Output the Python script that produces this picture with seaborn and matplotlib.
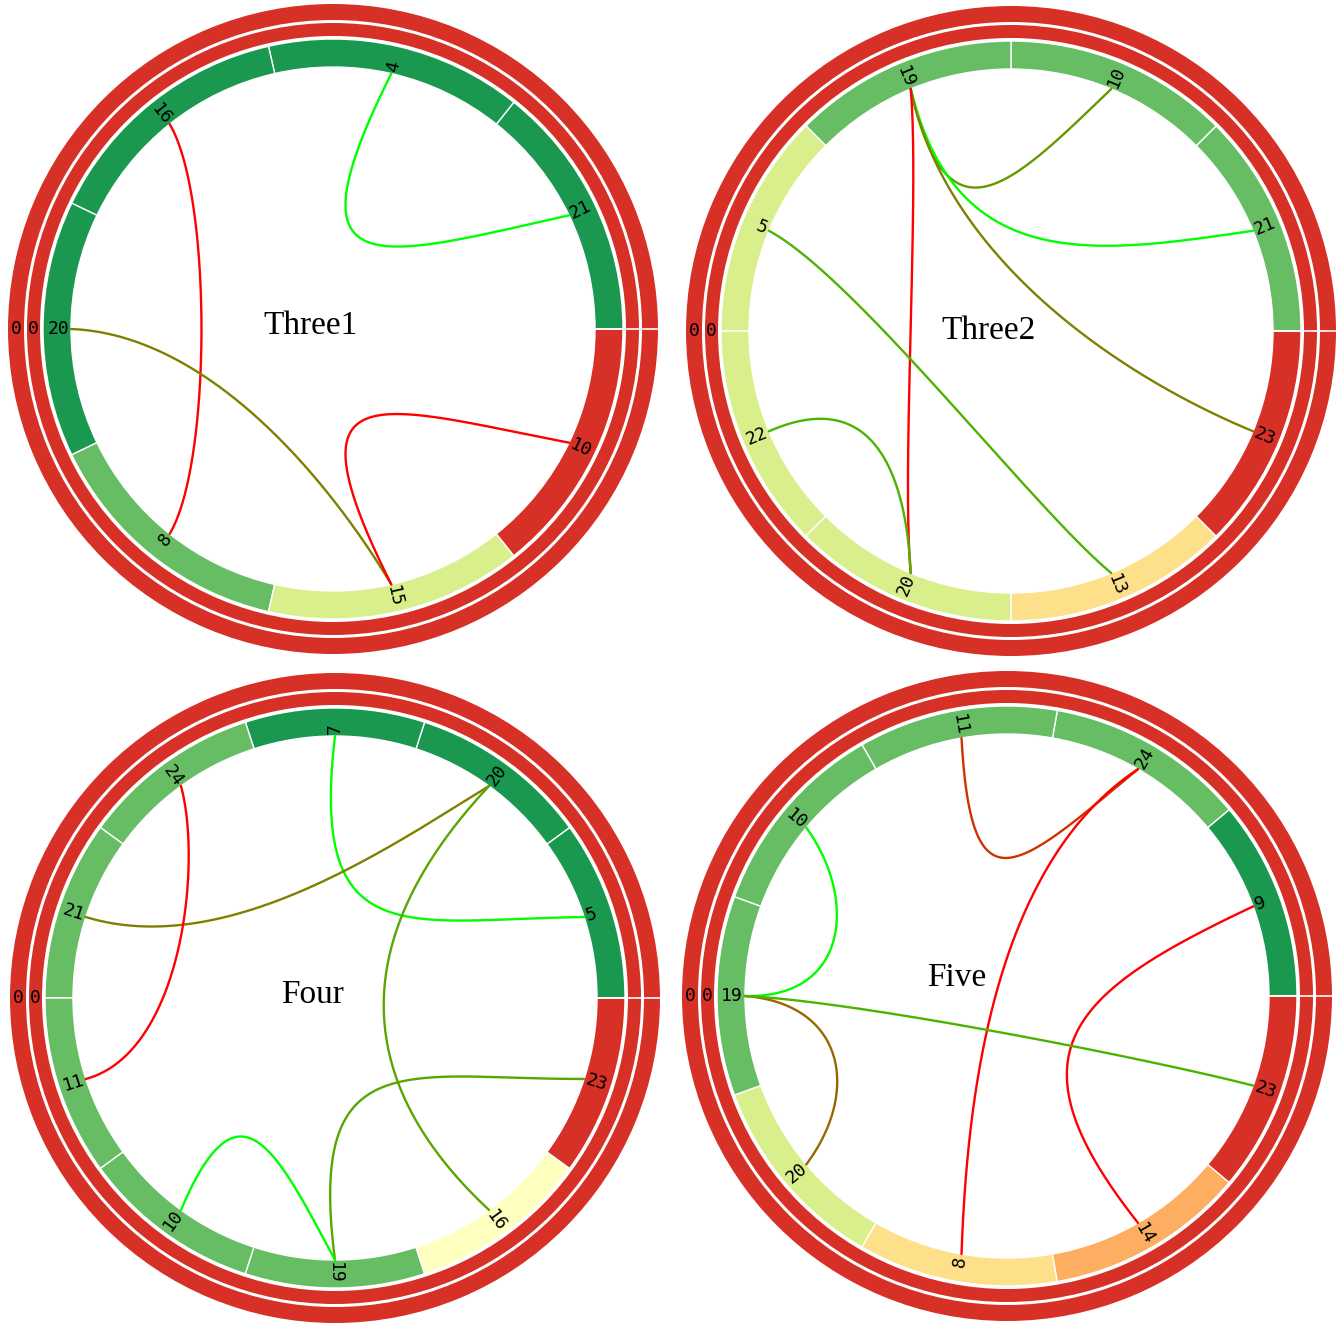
import numpy as np
import matplotlib
matplotlib.use("Agg")
import matplotlib.pyplot as plt
from matplotlib.patches import Wedge
import seaborn as sns

W, H = 1343, 1324

panel_titles = ["Three1", "Three2", "Four", "Five"]

# nodes listed counter-clockwise from 3 o'clock; level = RdYlGn class of the segment
three1_nodes = ["21", "4", "16", "20", "8", "15", "10"]
three1_levels = [9, 9, 9, 9, 8, 6, 1]
three1_src = ["4", "16", "20", "15"]
three1_dst = ["21", "8", "15", "10"]
three1_score = [1.0, 0.0, 0.5, 0.0]

three2_nodes = ["21", "10", "19", "5", "22", "20", "13", "23"]
three2_levels = [8, 8, 8, 6, 6, 6, 4, 1]
three2_src = ["19", "19", "19", "19", "5", "22"]
three2_dst = ["10", "21", "23", "20", "13", "20"]
three2_score = [0.6, 1.0, 0.5, 0.0, 0.7, 0.7]

four_nodes = ["5", "20", "7", "24", "21", "11", "10", "19", "16", "23"]
four_levels = [9, 9, 9, 8, 8, 8, 8, 8, 5, 1]
four_src = ["7", "20", "20", "24", "23", "10"]
four_dst = ["5", "21", "16", "11", "19", "19"]
four_score = [1.0, 0.5, 0.65, 0.0, 0.65, 1.0]

five_nodes = ["9", "24", "11", "10", "19", "20", "8", "14", "23"]
five_levels = [9, 8, 8, 8, 8, 6, 4, 3, 1]
five_src = ["11", "24", "9", "10", "19", "19"]
five_dst = ["24", "8", "14", "19", "20", "23"]
five_score = [0.2, 0.0, 0.0, 1.0, 0.4, 0.7]

panels = [
    (three1_nodes, three1_levels, three1_src, three1_dst, three1_score),
    (three2_nodes, three2_levels, three2_src, three2_dst, three2_score),
    (four_nodes, four_levels, four_src, four_dst, four_score),
    (five_nodes, five_levels, five_src, five_dst, five_score),
]

# chord shape: bezier handles as (radial, tangential) fractions of the radius at each end
chord_shapes = [
    [(0.10, 0.22, 0.27, 0.17), (0.69, 0.04, 0.69, -0.04),
     (0.47, 0.02, 0.57, -0.14), (0.10, -0.22, 0.28, -0.19)],
    [(0.37, 0.11, 0.52, 0.21), (0.28, 0.11, 0.40, 0.15), (0.38, 0.12, 0.40, 0.0),
     (0.62, 0.12, 0.66, -0.18), (0.62, 0.04, 0.66, -0.18), (0.55, -0.01, 0.68, -0.15)],
    [(0.16, 0.10, 0.36, 0.20), (0.56, 0.18, 0.45, -0.01), (0.28, 0.09, 0.23, -0.15),
     (0.71, 0.11, 0.62, 0.02), (0.36, -0.21, 0.16, -0.11), (0.44, -0.13, 0.59, -0.22)],
    [(0.33, 0.08, 0.43, 0.21), (0.40, 0.30, 0.43, -0.08), (0.23, -0.07, 0.18, -0.12),
     (0.68, 0.08, 0.60, 0.01), (0.62, 0.03, 0.66, -0.08), (0.57, 0.02, 0.59, -0.04)],
]

centers = [(333, 329), (1011, 331), (335, 998), (1007, 996)]
title_offsets = [(-23, 3), (-22, 0), (-22, 3), (-50, 18)]

R_IN, R_OUT = 262, 290
RINGS = [(293, 306), (309, 325)]
RED = "#d73027"
RDYLGN = ["#a50026", "#d73027", "#f46d43", "#fdae61", "#fee08b", "#ffffbf",
          "#d9ef8b", "#a6d96a", "#66bd63", "#1a9850", "#006837"]

sns.set_theme(style="white")
plt.rcParams["font.family"] = ["DejaVu Sans Mono", "DejaVu Sans"]
chord_cmap = sns.blend_palette(["#ff0000", "#00ff00"], as_cmap=True)


def unit(deg):
    r = np.deg2rad(deg)
    return np.array([np.cos(r), np.sin(r)])


def bezier(p0, c1, c2, p3, n=200):
    t = np.linspace(0, 1, n)[:, None]
    return (1 - t) ** 3 * p0 + 3 * (1 - t) ** 2 * t * c1 + 3 * (1 - t) * t ** 2 * c2 + t ** 3 * p3


fig = plt.figure(figsize=(W / 100, H / 100), dpi=100)
half = 345
for i, (nodes, levels, src, dst, score) in enumerate(panels):
    cx, cy = centers[i]
    ax = fig.add_axes([(cx - half) / W, 1 - (cy + half) / H, 2 * half / W, 2 * half / H])
    ax.set_xlim(-half, half)
    ax.set_ylim(-half, half)
    ax.set_aspect("equal")
    ax.axis("off")

    n = len(nodes)
    step = 360 / n

    # two outer red rings with their "0" ticks
    for r0, r1 in RINGS:
        ax.add_patch(Wedge((0, 0), r1, 0, 360, width=r1 - r0, facecolor=RED, edgecolor="none"))
        ax.text(-(r0 + r1) / 2, 0, "0", ha="center", va="center", fontsize=13, color="black")
    ax.plot([R_IN - 2, RINGS[-1][1] + 2], [0, 0], color="white", lw=1.2, zorder=3)

    # coloured node ring
    for k, lv in enumerate(levels):
        ax.add_patch(Wedge((0, 0), R_OUT, k * step, (k + 1) * step, width=R_OUT - R_IN,
                           facecolor=RDYLGN[lv], edgecolor="white", lw=1.0))
    ang = {lab: (k + 0.5) * step for k, lab in enumerate(nodes)}

    # chords
    for (s, d, v), (a1, b1, a2, b2) in zip(zip(src, dst, score), chord_shapes[i]):
        u0, v0 = unit(ang[s]), unit(ang[s] + 90)
        u3, v3 = unit(ang[d]), unit(ang[d] + 90)
        p0, p3 = R_IN * u0, R_IN * u3
        c1 = R_IN * (a1 * u0 + b1 * v0)
        c2 = R_IN * (a2 * u3 + b2 * v3)
        curve = bezier(p0, c1, c2, p3)
        sns.lineplot(x=curve[:, 0], y=curve[:, 1], sort=False, estimator=None,
                     color=chord_cmap(v), lw=1.7, ax=ax, zorder=4)

    # node labels
    for lab in nodes:
        th = ang[lab]
        x, y = (R_IN + 2) * unit(th)
        if np.cos(np.deg2rad(th)) > -1e-6:
            rot = th if th <= 90 else th - 360
            ha = "left"
        else:
            rot = th - 180
            ha = "right"
        ax.text(x, y, lab, rotation=rot, rotation_mode="anchor", ha=ha, va="center",
                fontsize=13, color="black", zorder=5)

    dx, dy = title_offsets[i]
    ax.text(dx, dy, panel_titles[i], ha="center", va="center", fontsize=24,
            family=["Liberation Serif", "DejaVu Serif"], color="black", zorder=5)

fig.savefig("out.png", dpi=100)
